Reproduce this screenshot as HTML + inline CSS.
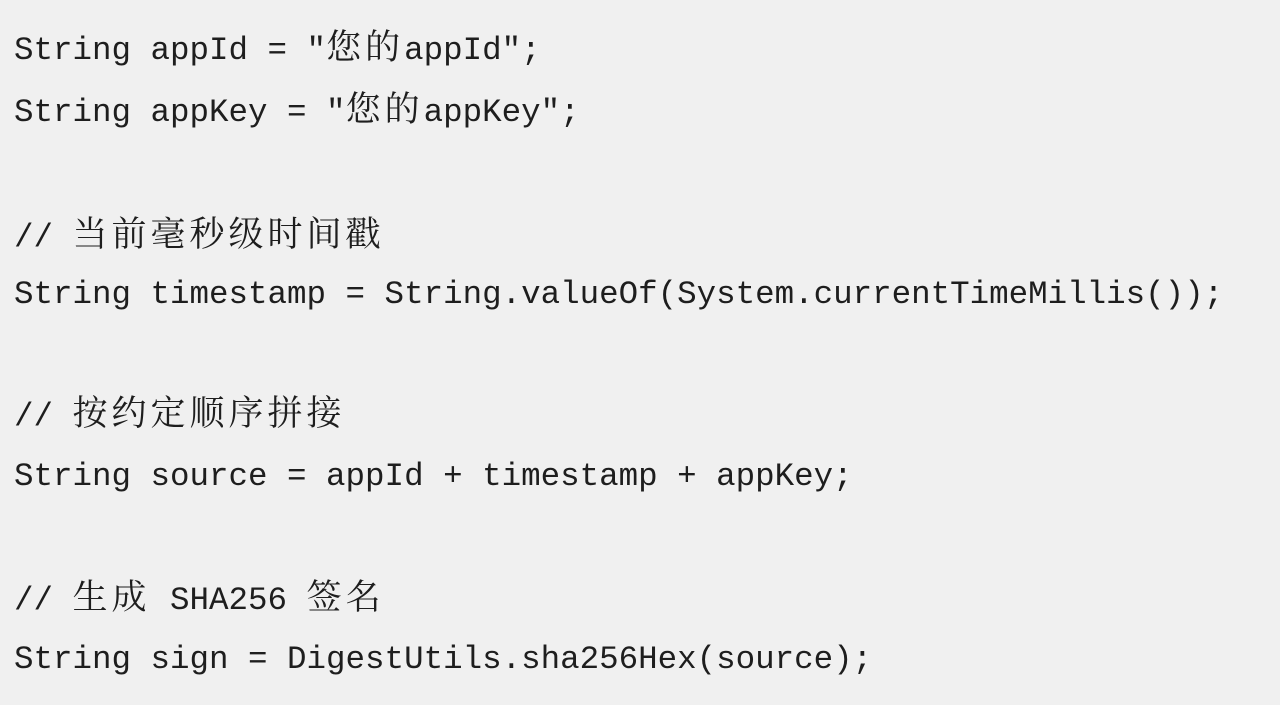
<!DOCTYPE html>
<html><head><meta charset="utf-8"><style>
html,body{margin:0;padding:0;width:1280px;height:705px;overflow:hidden;background:#f0f0f0;}
.l{position:absolute;left:14px;height:40px;line-height:40px;font-size:32.5px;color:#1e1e1e;white-space:pre;font-family:"Liberation Mono","Noto Serif CJK SC",monospace;}
.c{font-size:35px;letter-spacing:4px;}
</style></head><body>
<div class="l" style="top:30px">String appId = ″<span class="c">您的</span>appId″;</div>
<div class="l" style="top:92px">String appKey = ″<span class="c">您的</span>appKey″;</div>
<div class="l" style="top:217px">// <span class="c">当前毫秒级时间戳</span></div>
<div class="l" style="top:275px">String timestamp = String.valueOf(System.currentTimeMillis());</div>
<div class="l" style="top:396px">// <span class="c">按约定顺序拼接</span></div>
<div class="l" style="top:457px">String source = appId + timestamp + appKey;</div>
<div class="l" style="top:580px">// <span class="c">生成</span> SHA256 <span class="c">签名</span></div>
<div class="l" style="top:640px">String sign = DigestUtils.sha256Hex(source);</div>
</body></html>
